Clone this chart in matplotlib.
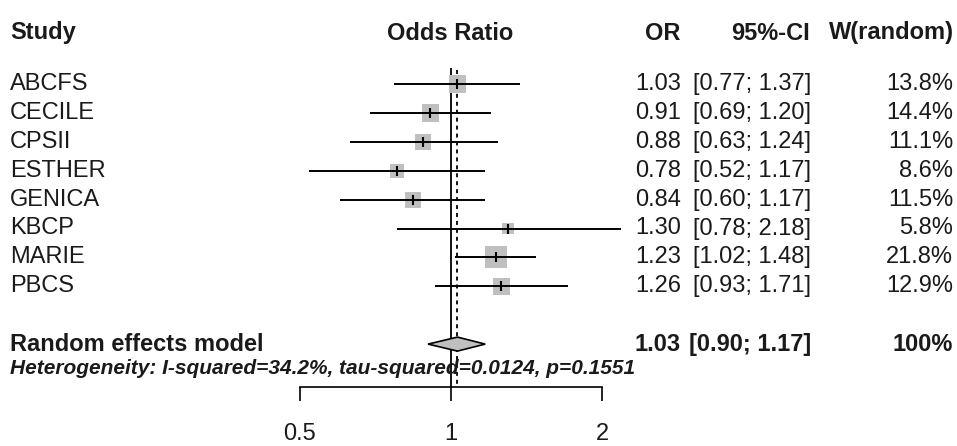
import numpy as np
import matplotlib
matplotlib.use("Agg")
import matplotlib.pyplot as plt
from matplotlib.ticker import FixedLocator, FixedFormatter, NullLocator

# ---------------- data ----------------
studies = ["ABCFS", "CECILE", "CPSII", "ESTHER", "GENICA", "KBCP", "MARIE", "PBCS"]
or_est = [1.03, 0.91, 0.88, 0.78, 0.84, 1.30, 1.23, 1.26]
ci_low = [0.77, 0.69, 0.63, 0.52, 0.60, 0.78, 1.02, 0.93]
ci_high = [1.37, 1.20, 1.24, 1.17, 1.17, 2.18, 1.48, 1.71]
weights = [13.8, 14.4, 11.1, 8.6, 11.5, 5.8, 21.8, 12.9]

pooled_label = "Random effects model"
pooled_est = 1.03
pooled_low = 0.90
pooled_high = 1.17
pooled_weight = "100%"
heterogeneity = "Heterogeneity: I-squared=34.2%, tau-squared=0.0124, p=0.1551"

x_ticks = [0.5, 1, 2]
x_ticklabels = ["0.5", "1", "2"]

headers = ["Study", "Odds Ratio", "OR", "95%-CI", "W(random)"]

# ---------------- layout ----------------
W, H = 957, 446
DPI = 100
plt.rcParams['font.family'] = ['Liberation Sans', 'DejaVu Sans']
fig = plt.figure(figsize=(W / DPI, H / DPI), dpi=DPI)

def fx(px):
    return px / W

def fy(py):
    return 1 - py / H

# axes pixel extents
ax_l, ax_r, ax_t, ax_b = 250, 640, 60, 387
ax = fig.add_axes([fx(ax_l), fy(ax_b), fx(ax_r) - fx(ax_l), (ax_b - ax_t) / H])
ax.set_xscale('log', base=2)
# pixel mapping: px = 451 + 151*log2(x)
x0px, unit = 451.0, 151.0
ax.set_xlim(2 ** ((ax_l - x0px) / unit), 2 ** ((ax_r - x0px) / unit))
row0px, rowstep = 84.0, 28.9
ax.set_ylim((ax_b - row0px) / rowstep, (ax_t - row0px) / rowstep)

for s in ['top', 'right', 'left']:
    ax.spines[s].set_visible(False)
ax.spines['bottom'].set_bounds(x_ticks[0], x_ticks[-1])
ax.spines['bottom'].set_linewidth(1.2)
ax.xaxis.set_major_locator(FixedLocator(x_ticks))
ax.xaxis.set_major_formatter(FixedFormatter(x_ticklabels))
ax.xaxis.set_minor_locator(NullLocator())
ax.yaxis.set_major_locator(NullLocator())
ax.tick_params(axis='x', direction='out', length=10, width=1.2, pad=16,
               labelsize=17, colors='black', labelcolor='#1a1a1a')
ax.patch.set_alpha(0)

rows = np.arange(len(studies))
pooled_row = len(studies) + 1

# reference lines
ax.vlines(1, (68 - row0px) / rowstep, (ax_b - row0px) / rowstep, color='black', lw=1.3, zorder=1)
ax.vlines(pooled_est, (70 - row0px) / rowstep, (ax_b - row0px) / rowstep, color='black', lw=1.3,
          linestyles=(0, (2.2, 2.2)), zorder=1)

# CI lines
ax.hlines(rows, ci_low, ci_high, color='black', lw=1.4, zorder=3)
# squares, area proportional to weight
side_pt = 4.71 * np.sqrt(np.array(weights)) * 0.72
ax.scatter(or_est, rows, marker='s', s=side_pt ** 2, color='#bfbfbf', edgecolors='none', zorder=2)
ax.scatter(or_est, rows, marker='|', s=7.0 ** 2, color='black', linewidths=1.5, zorder=4)

# diamond
h = 7.0 / rowstep
ax.fill([pooled_low, pooled_est, pooled_high, pooled_est],
        [pooled_row, pooled_row - h, pooled_row, pooled_row + h],
        facecolor='#bfbfbf', edgecolor='black', lw=1.2, zorder=3)

# ---------------- text ----------------
fs = 17
col = '#1a1a1a'
hy = 33
fig.text(fx(10), fy(hy), headers[0], ha='left', va='center', fontsize=fs, fontweight='bold', color=col)
fig.text(fx(450), fy(hy), headers[1], ha='center', va='center', fontsize=fs, fontweight='bold', color=col)
fig.text(fx(680), fy(hy), headers[2], ha='right', va='center', fontsize=fs, fontweight='bold', color=col)
fig.text(fx(810), fy(hy), headers[3], ha='right', va='center', fontsize=fs, fontweight='bold', color=col)
fig.text(fx(954), fy(hy), headers[4], ha='right', va='center', fontsize=fs, fontweight='bold', color=col)

for i, name in enumerate(studies):
    py = row0px + rowstep * i
    fig.text(fx(10), fy(py), name, ha='left', va='center', fontsize=fs, color=col)
    fig.text(fx(681), fy(py), f"{or_est[i]:.2f}", ha='right', va='center', fontsize=fs, color=col)
    fig.text(fx(811), fy(py), f"[{ci_low[i]:.2f}; {ci_high[i]:.2f}]", ha='right', va='center',
             fontsize=fs, color=col)
    fig.text(fx(953), fy(py), f"{weights[i]:.1f}%", ha='right', va='center', fontsize=fs, color=col)

py = row0px + rowstep * pooled_row
fig.text(fx(10), fy(py), pooled_label, ha='left', va='center', fontsize=17, fontweight='bold', color=col)
fig.text(fx(681), fy(py), f"{pooled_est:.2f}", ha='right', va='center', fontsize=fs,
         fontweight='bold', color=col)
fig.text(fx(811), fy(py), f"[{pooled_low:.2f}; {pooled_high:.2f}]", ha='right', va='center',
         fontsize=fs, fontweight='bold', color=col)
fig.text(fx(953), fy(py), pooled_weight, ha='right', va='center', fontsize=fs, fontweight='bold',
         color=col)

fig.text(fx(10), fy(369), heterogeneity, ha='left', va='center', fontsize=15,
         fontweight='bold', fontstyle='italic', color=col)

fig.savefig('out.png', dpi=DPI, facecolor='white')
